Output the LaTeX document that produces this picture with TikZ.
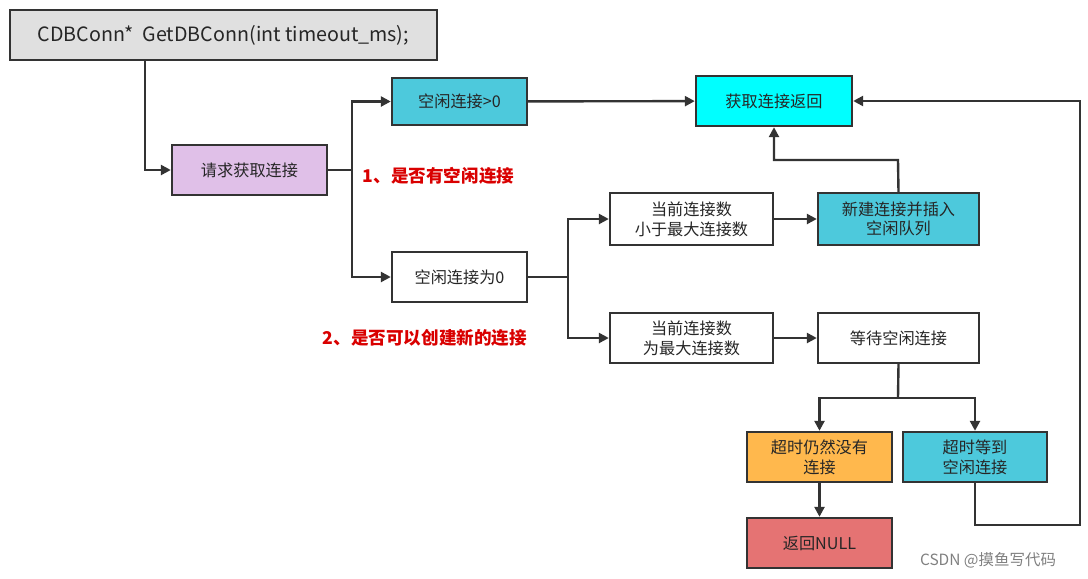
\documentclass[tikz,border=0pt]{standalone}
\usepackage{fontspec}
\setmainfont{Noto Sans CJK SC}
\usetikzlibrary{arrows.meta}
\definecolor{ln}{HTML}{333333}
\definecolor{teal}{HTML}{4DC9DC}
\definecolor{cy}{HTML}{00FFFF}
\definecolor{lav}{HTML}{E0C0E8}
\definecolor{org}{HTML}{FFB84D}
\definecolor{rd}{HTML}{E57373}
\definecolor{gr}{HTML}{E0E0E0}
\newcommand{\bx}[7]{\node[box,fill=#6,minimum width={(#4-#2)*0.025cm},minimum height={(#5-#3)*0.025cm}] (#1) at ({(#2+#4)/2},{(#3+#5)/2}) {#7};}
\begin{document}
\begin{tikzpicture}[x=0.025cm,y=-0.025cm,
 box/.style={draw=ln,line width=1.7pt,inner sep=1pt,align=center,font=\fontsize{11.5pt}{14pt}\selectfont,text=black!85},
 ar/.style={draw=ln,line width=1.7pt,-{Triangle[length=7pt,width=7pt]}},
 ln/.style={draw=ln,line width=1.7pt},
 lab/.style={text=red!85!black,font=\bfseries\fontsize{12.5pt}{14pt}\selectfont}]
\useasboundingbox (0,0) rectangle (1088,579);
\bx{top}{10}{10}{437}{60}{gr}{\fontsize{14pt}{16pt}\selectfont CDBConn*\ \ GetDBConn(int timeout\_ms);}
\bx{req}{172}{145}{327}{195}{lav}{请求获取连接}
\bx{g0}{392}{78}{527}{125}{teal}{空闲连接>0}
\bx{ret}{696}{76}{852}{126}{cy}{获取连接返回}
\bx{e0}{392}{252}{527}{302}{white}{空闲连接为0}
\bx{lt}{610}{193}{773}{245}{white}{当前连接数\\小于最大连接数}
\bx{new}{818}{193}{979}{245}{teal}{新建连接并插入\\空闲队列}
\bx{eq}{610}{313}{773}{363}{white}{当前连接数\\为最大连接数}
\bx{wait}{818}{313}{979}{363}{white}{等待空闲连接}
\bx{to}{747}{432}{892}{482}{org}{超时仍然没有\\连接}
\bx{ok}{903}{432}{1047}{482}{teal}{超时等到\\空闲连接}
\bx{null}{747}{518}{892}{568}{rd}{返回NULL}
\node[lab,anchor=west] (l1) at (358,176) {1、是否有空闲连接};
\node[lab,anchor=west] (l2) at (318,338) {2、是否可以创建新的连接};
\node[text=gray,font=\fontsize{11pt}{12pt}\selectfont] (wm) at (988,560) {CSDN @摸鱼写代码};
\coordinate (b1) at (352,170);
\coordinate (b2) at (568,277);
\coordinate (b3) at (898,398);
\path[ar] (top.south -| 145,0) |- (req.west);
\path[ln] (req.east) -- (b1);
\path[ar] (b1) |- (g0.west);
\path[ar] (b1) |- (e0.west);
\path[ar] (g0) -- (ret);
\path[ln] (e0.east) -- (b2);
\path[ar] (b2) |- (lt.west);
\path[ar] (b2) |- (eq.west);
\path[ar] (lt) -- (new);
\path[ar] (new.north) -- (898,160) -| (ret.south);
\path[ar] (eq) -- (wait);
\path[ln] (wait.south) -- (b3);
\path[ar] (b3) -| (to.north);
\path[ar] (b3) -| (ok.north);
\path[ar] (to) -- (null);
\path[ar] (ok.south) -- (975,525) -- (1080,525) |- (ret.east);
\end{tikzpicture}
\end{document}
